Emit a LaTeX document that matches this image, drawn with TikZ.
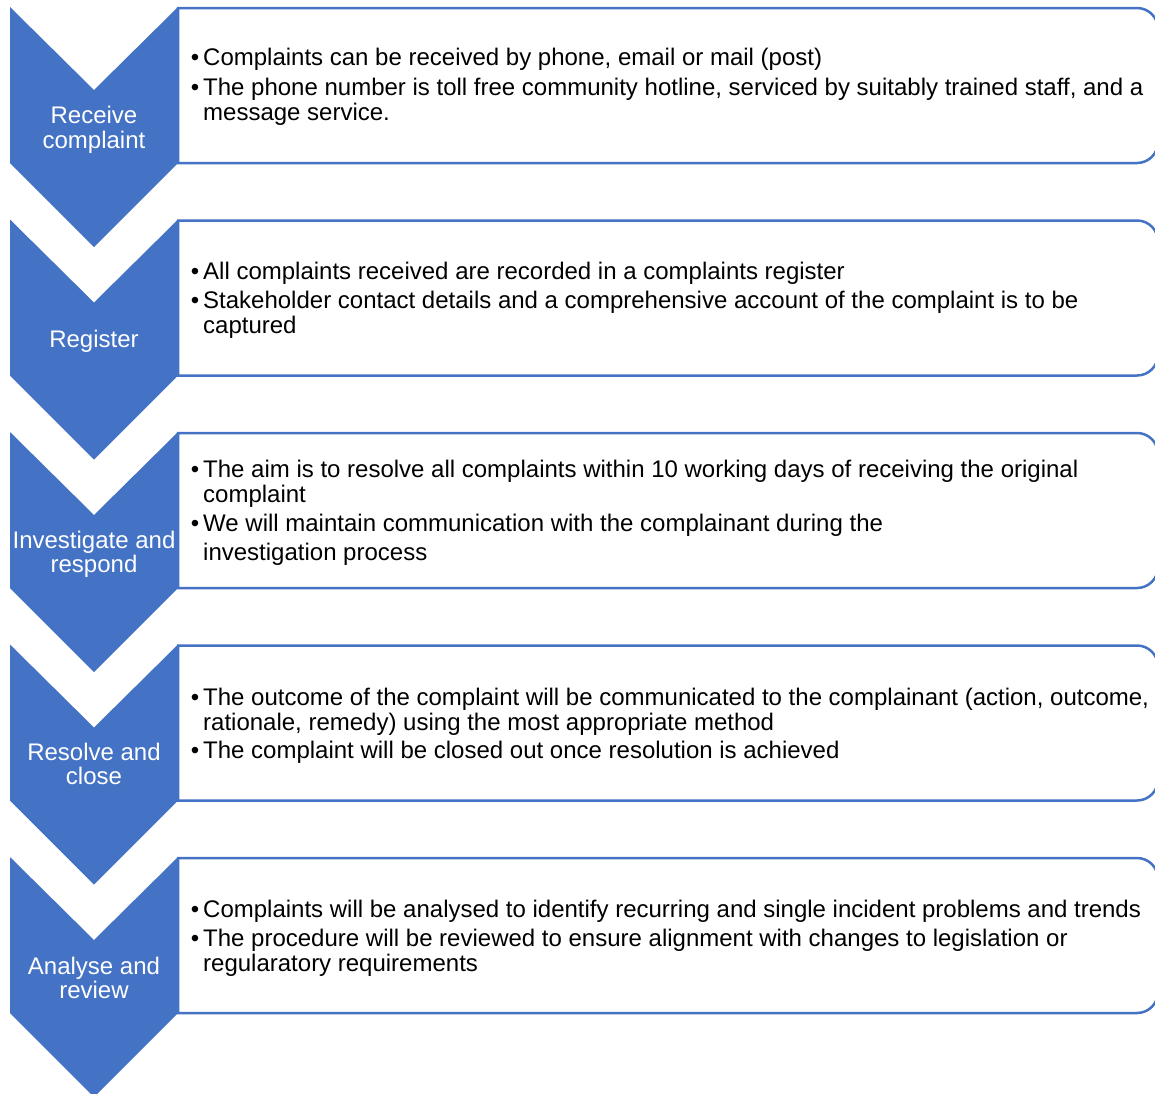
\documentclass[tikz,border=0pt]{standalone}
\usepackage{fontspec}
\setmainfont{Liberation Sans}
\definecolor{cblue}{HTML}{4472C4}
\newcommand{\mybul}{\llap{•\hspace{4pt}}}
\newcommand{\mystrut}{\rule{0pt}{18pt}}
\tikzset{
  chev/.style={fill=cblue, draw=none},
  panel/.style={draw=cblue, line width=2.5pt, fill=white},
  bodytext/.style={anchor=north west, inner sep=0pt, align=left,
    font=\fontsize{24}{25}\selectfont, text=black},
  chevtext/.style={anchor=north, inner sep=0pt, align=center,
    font=\fontsize{24}{24.5}\selectfont, text=white},
}
\begin{document}
\begin{tikzpicture}[x=1pt,y=-1pt]
\useasboundingbox (0,0) rectangle (1155,1093);
\foreach \T in {7,219.5,432,644.5,857} {
  \draw[panel] (178,\T+1) -- (1137,\T+1)
     arc[start angle=90, end angle=0, radius=21pt] -- (1158,\T+135)
     arc[start angle=0, end angle=-90, radius=21pt] -- (178,\T+156) -- cycle;
  \fill[chev] (10,\T) -- (94,\T+83) -- (178,\T) -- (178,\T+156)
     -- (94,\T+240) -- (10,\T+156) -- cycle;
}
% chevron labels
\node[chevtext] (c1) at (94,123.5-18) {\mystrut Receive\\complaint};
\node[chevtext] (c2) at (94,347-18) {\mystrut Register};
\node[chevtext] (c3) at (94,548-18) {\mystrut Investigate and\\respond};
\node[chevtext] (c4) at (94,760-18) {\mystrut Resolve and\\close};
\node[chevtext] (c5) at (94,974-18) {\mystrut Analyse and\\review};
% panel texts
\node[bodytext] (t1) at (203,65.5-18) {\mystrut\mybul Complaints can be received by phone, email or mail (post)\\[4.5pt]
\mybul The phone number is toll free community hotline, serviced by suitably trained staff, and a\\
message service.};
\node[bodytext] (t2) at (203,279-18) {\mystrut\mybul All complaints received are recorded in a complaints register\\[4pt]
\mybul Stakeholder contact details and a comprehensive account of the complaint is to be\\
captured};
\node[bodytext] (t3) at (203,477-18) {\mystrut\mybul The aim is to resolve all complaints within 10 working days of receiving the original\\
complaint\\[4pt]
\mybul We will maintain communication with the complainant during the\\[4pt]
investigation process};
\node[bodytext] (t4) at (203,705-18) {\mystrut\mybul The outcome of the complaint will be communicated to the complainant (action, outcome,\\
rationale, remedy) using the most appropriate method\\[3.5pt]
\mybul The complaint will be closed out once resolution is achieved};
\node[bodytext] (t5) at (203,917-18) {\mystrut\mybul Complaints will be analysed to identify recurring and single incident problems and trends\\[4pt]
\mybul The procedure will be reviewed to ensure alignment with changes to legislation or\\
regularatory requirements};
\end{tikzpicture}
\end{document}
